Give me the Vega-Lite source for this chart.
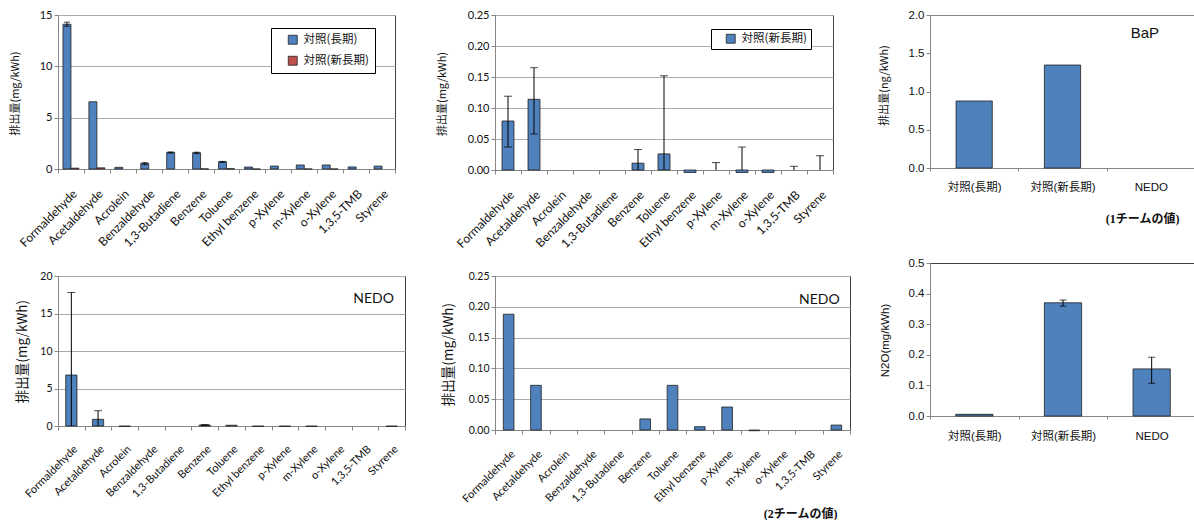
{
  "$schema": "https://vega.github.io/schema/vega-lite/v6.json",
  "padding": 0,
  "background": "white",
  "spacing": 26,
  "config": {
    "view": {"stroke": null},
    "axis": {
      "domainColor": "#868686",
      "tickColor": "#868686",
      "gridColor": "#ABABAB",
      "gridWidth": 1,
      "labelColor": "#111111",
      "titleColor": "#111111",
      "titleFontWeight": "normal",
      "labelFont": "Lato",
      "titleFont": "Noto Sans CJK JP",
      "tickSize": 4
    }
  },
  "datasets": {
    "long_term": [
      {"compound": "Formaldehyde", "series": "対照(長期)", "value": 14.1},
      {"compound": "Formaldehyde", "series": "対照(新長期)", "value": 0.079},
      {"compound": "Acetaldehyde", "series": "対照(長期)", "value": 6.55},
      {"compound": "Acetaldehyde", "series": "対照(新長期)", "value": 0.114},
      {"compound": "Acrolein", "series": "対照(長期)", "value": 0.16},
      {"compound": "Benzaldehyde", "series": "対照(長期)", "value": 0.55},
      {"compound": "1,3-Butadiene", "series": "対照(長期)", "value": 1.62},
      {"compound": "Benzene", "series": "対照(長期)", "value": 1.59},
      {"compound": "Benzene", "series": "対照(新長期)", "value": 0.011},
      {"compound": "Toluene", "series": "対照(長期)", "value": 0.71},
      {"compound": "Toluene", "series": "対照(新長期)", "value": 0.026},
      {"compound": "Ethyl benzene", "series": "対照(長期)", "value": 0.19},
      {"compound": "Ethyl benzene", "series": "対照(新長期)", "value": -0.004},
      {"compound": "p-Xylene", "series": "対照(長期)", "value": 0.29},
      {"compound": "m-Xylene", "series": "対照(長期)", "value": 0.39},
      {"compound": "m-Xylene", "series": "対照(新長期)", "value": -0.004},
      {"compound": "o-Xylene", "series": "対照(長期)", "value": 0.39},
      {"compound": "o-Xylene", "series": "対照(新長期)", "value": -0.004},
      {"compound": "1,3,5-TMB", "series": "対照(長期)", "value": 0.2},
      {"compound": "Styrene", "series": "対照(長期)", "value": 0.28}
    ],
    "long_term_err": [
      {"compound": "Formaldehyde", "series": "対照(長期)", "lo": 13.9, "hi": 14.3},
      {"compound": "Benzaldehyde", "series": "対照(長期)", "lo": 0.42, "hi": 0.62},
      {"compound": "1,3-Butadiene", "series": "対照(長期)", "lo": 1.55, "hi": 1.66},
      {"compound": "Benzene", "series": "対照(長期)", "lo": 1.5, "hi": 1.64},
      {"compound": "Toluene", "series": "対照(長期)", "lo": 0.64, "hi": 0.74}
    ],
    "new_long_term": [
      {"compound": "Formaldehyde", "series": "対照(新長期)", "value": 0.079},
      {"compound": "Acetaldehyde", "series": "対照(新長期)", "value": 0.114},
      {"compound": "Benzene", "series": "対照(新長期)", "value": 0.011},
      {"compound": "Toluene", "series": "対照(新長期)", "value": 0.026},
      {"compound": "Ethyl benzene", "series": "対照(新長期)", "value": -0.004},
      {"compound": "m-Xylene", "series": "対照(新長期)", "value": -0.004},
      {"compound": "o-Xylene", "series": "対照(新長期)", "value": -0.004}
    ],
    "new_long_term_err": [
      {"compound": "Formaldehyde", "lo": 0.037, "hi": 0.119},
      {"compound": "Acetaldehyde", "lo": 0.058, "hi": 0.165},
      {"compound": "Benzene", "lo": -0.011, "hi": 0.033},
      {"compound": "Toluene", "lo": -0.1, "hi": 0.152},
      {"compound": "p-Xylene", "lo": -0.012, "hi": 0.012},
      {"compound": "m-Xylene", "lo": -0.045, "hi": 0.037},
      {"compound": "1,3,5-TMB", "lo": -0.006, "hi": 0.006},
      {"compound": "Styrene", "lo": -0.023, "hi": 0.023}
    ],
    "bap": [
      {"engine": "対照(長期)", "value": 0.876},
      {"engine": "対照(新長期)", "value": 1.346}
    ],
    "nedo_1": [
      {"compound": "Formaldehyde", "value": 6.8},
      {"compound": "Acetaldehyde", "value": 0.89},
      {"compound": "Acrolein", "value": -0.06},
      {"compound": "Benzene", "value": 0.12},
      {"compound": "Toluene", "value": 0.1},
      {"compound": "Ethyl benzene", "value": -0.06},
      {"compound": "p-Xylene", "value": -0.06},
      {"compound": "m-Xylene", "value": -0.06},
      {"compound": "Styrene", "value": -0.06}
    ],
    "nedo_1_err": [
      {"compound": "Formaldehyde", "lo": -4.2, "hi": 17.8},
      {"compound": "Acetaldehyde", "lo": -0.26, "hi": 2.04},
      {"compound": "Benzene", "lo": 0.04, "hi": 0.2}
    ],
    "nedo_2": [
      {"compound": "Formaldehyde", "value": 0.188},
      {"compound": "Acetaldehyde", "value": 0.0725},
      {"compound": "Benzene", "value": 0.018},
      {"compound": "Toluene", "value": 0.0725},
      {"compound": "Ethyl benzene", "value": 0.0054},
      {"compound": "p-Xylene", "value": 0.0373},
      {"compound": "m-Xylene", "value": -0.0012},
      {"compound": "Styrene", "value": 0.008}
    ],
    "n2o": [
      {"engine": "対照(長期)", "value": 0.0055},
      {"engine": "対照(新長期)", "value": 0.37, "lo": 0.359, "hi": 0.379},
      {"engine": "NEDO", "value": 0.154, "lo": 0.107, "hi": 0.192}
    ]
  },
  "hconcat": [
    {
      "columns": 4,
      "spacing": 0,
      "align": "each",
      "bounds": "flush",
      "resolve": {"scale": {"color": "independent"}, "legend": {"color": "independent"}},
      "concat": [
        {"data": {"values": []}, "mark": "point", "width": 1, "height": 1},
        {"data": {"values": []}, "mark": "point", "width": 1, "height": 15},
        {"data": {"values": []}, "mark": "point", "width": 1, "height": 1},
        {"data": {"values": []}, "mark": "point", "width": 1, "height": 15},

        {"data": {"values": []}, "mark": "point", "width": 58, "height": 1},
        {
          "width": 337,
          "height": 154,
          "view": {"stroke": "#404040"},
          "data": {"name": "long_term"},
          "encoding": {
            "x": {
              "field": "compound", "type": "nominal", "sort": null,
              "scale": {"domain": ["Formaldehyde", "Acetaldehyde", "Acrolein", "Benzaldehyde", "1,3-Butadiene", "Benzene", "Toluene", "Ethyl benzene", "p-Xylene", "m-Xylene", "o-Xylene", "1,3,5-TMB", "Styrene"], "paddingInner": 0, "paddingOuter": 0},
              "axis": {"title": null, "labelAngle": -45, "labelFontSize": 12, "tickBand": "extent", "labelPadding": 15, "labelOverlap": false}
            },
            "xOffset": {"field": "series", "type": "nominal", "scale": {"domain": ["対照(長期)", "対照(新長期)"], "paddingInner": 0, "paddingOuter": 0.625}}
          },
          "layer": [
            {
              "mark": {"type": "bar", "stroke": "#1F1F1F", "strokeWidth": 0.8},
              "encoding": {
                "y": {
                  "field": "value", "type": "quantitative", "title": "排出量(mg/kWh)",
                  "scale": {"domain": [0, 15], "nice": false},
                  "axis": {"values": [0, 5, 10, 15], "format": "d", "labelFontSize": 11, "titleFontSize": 11, "titleX": -43, "titleY": 78, "titleAlign": "center", "titleBaseline": "middle", "titleAngle": -90}
                },
                "color": {
                  "field": "series", "type": "nominal",
                  "scale": {"domain": ["対照(長期)", "対照(新長期)"], "range": ["#4F81BD", "#C0504D"]},
                  "legend": {"title": null, "orient": "none", "legendX": 213, "legendY": 13, "direction": "vertical", "strokeColor": "#000000", "fillColor": "#ffffff", "padding": 6, "symbolOffset": 10, "symbolType": "square", "symbolSize": 80, "symbolStrokeColor": "#1F1F1F", "symbolStrokeWidth": 0.8, "labelFont": "Noto Sans CJK JP", "labelFontSize": 11.5, "labelColor": "#111111", "rowPadding": 8, "labelOffset": 5}
                }
              }
            },
            {
              "data": {"name": "long_term_err"},
              "mark": {"type": "rule", "color": "#000000", "strokeWidth": 1, "clip": true},
              "encoding": {
                "y": {"field": "lo", "type": "quantitative", "title": "排出量(mg/kWh)", "axis": {"values": [0, 5, 10, 15], "format": "d", "labelFontSize": 11, "titleFontSize": 11, "titleX": -43, "titleY": 78, "titleAlign": "center", "titleBaseline": "middle", "titleAngle": -90}},
                "y2": {"field": "hi"}
              }
            },
            {
              "data": {"name": "long_term_err"},
              "mark": {"type": "tick", "color": "#000000", "size": 6, "thickness": 1, "clip": true},
              "encoding": {"y": {"field": "hi", "type": "quantitative", "title": "排出量(mg/kWh)", "axis": {"values": [0, 5, 10, 15], "format": "d", "labelFontSize": 11, "titleFontSize": 11, "titleX": -43, "titleY": 78, "titleAlign": "center", "titleBaseline": "middle", "titleAngle": -90}}}
            },
            {
              "data": {"name": "long_term_err"},
              "mark": {"type": "tick", "color": "#000000", "size": 6, "thickness": 1, "clip": true},
              "encoding": {"y": {"field": "lo", "type": "quantitative", "title": "排出量(mg/kWh)", "axis": {"values": [0, 5, 10, 15], "format": "d", "labelFontSize": 11, "titleFontSize": 11, "titleX": -43, "titleY": 78, "titleAlign": "center", "titleBaseline": "middle", "titleAngle": -90}}}
            }
          ]
        },
        {"data": {"values": []}, "mark": "point", "width": 90, "height": 1},
        {
          "width": 338,
          "height": 155,
          "view": {"stroke": "#404040"},
          "data": {"name": "new_long_term"},
          "encoding": {
            "x": {
              "field": "compound", "type": "nominal", "sort": null,
              "scale": {"domain": ["Formaldehyde", "Acetaldehyde", "Acrolein", "Benzaldehyde", "1,3-Butadiene", "Benzene", "Toluene", "Ethyl benzene", "p-Xylene", "m-Xylene", "o-Xylene", "1,3,5-TMB", "Styrene"], "paddingInner": 0, "paddingOuter": 0},
              "axis": {"title": null, "labelAngle": -45, "labelFontSize": 12, "tickBand": "extent", "labelPadding": 15, "labelOverlap": false}
            }
          },
          "layer": [
            {
              "mark": {"type": "bar", "width": {"band": 0.46}, "stroke": "#1F1F1F", "strokeWidth": 0.8},
              "encoding": {
                "y": {
                  "field": "value", "type": "quantitative", "title": "排出量(mg/kWh)",
                  "scale": {"domain": [0, 0.25], "nice": false},
                  "axis": {"values": [0, 0.05, 0.1, 0.15, 0.2, 0.25], "format": ".2f", "labelFontSize": 11, "titleFontSize": 11, "titleX": -53, "titleY": 78.5, "titleAlign": "center", "titleBaseline": "middle", "titleAngle": -90}
                },
                "color": {
                  "field": "series", "type": "nominal",
                  "scale": {"domain": ["対照(新長期)"], "range": ["#4F81BD"]},
                  "legend": {"title": null, "orient": "none", "legendX": 216, "legendY": 14, "direction": "vertical", "strokeColor": "#000000", "fillColor": "#ffffff", "padding": 4, "symbolOffset": 10, "symbolType": "square", "symbolSize": 80, "symbolStrokeColor": "#1F1F1F", "symbolStrokeWidth": 0.8, "labelFont": "Noto Sans CJK JP", "labelFontSize": 11.5, "labelColor": "#111111", "labelOffset": 5}
                }
              }
            },
            {
              "data": {"name": "new_long_term_err"},
              "mark": {"type": "rule", "color": "#000000", "strokeWidth": 1, "clip": true},
              "encoding": {
                "y": {"field": "lo", "type": "quantitative", "title": "排出量(mg/kWh)", "axis": {"values": [0, 0.05, 0.1, 0.15, 0.2, 0.25], "format": ".2f", "labelFontSize": 11, "titleFontSize": 11, "titleX": -53, "titleY": 78.5, "titleAlign": "center", "titleBaseline": "middle", "titleAngle": -90}},
                "y2": {"field": "hi"}
              }
            },
            {
              "data": {"name": "new_long_term_err"},
              "mark": {"type": "tick", "color": "#000000", "size": 8, "thickness": 1, "clip": true},
              "encoding": {"y": {"field": "hi", "type": "quantitative", "title": "排出量(mg/kWh)", "axis": {"values": [0, 0.05, 0.1, 0.15, 0.2, 0.25], "format": ".2f", "labelFontSize": 11, "titleFontSize": 11, "titleX": -53, "titleY": 78.5, "titleAlign": "center", "titleBaseline": "middle", "titleAngle": -90}}}
            },
            {
              "data": {"name": "new_long_term_err"},
              "mark": {"type": "tick", "color": "#000000", "size": 8, "thickness": 1, "clip": true},
              "encoding": {"y": {"field": "lo", "type": "quantitative", "title": "排出量(mg/kWh)", "axis": {"values": [0, 0.05, 0.1, 0.15, 0.2, 0.25], "format": ".2f", "labelFontSize": 11, "titleFontSize": 11, "titleX": -53, "titleY": 78.5, "titleAlign": "center", "titleBaseline": "middle", "titleAngle": -90}}}
            }
          ]
        },

        {"data": {"values": []}, "mark": "point", "width": 1, "height": 1},
        {"data": {"values": []}, "mark": "point", "width": 1, "height": 106},
        {"data": {"values": []}, "mark": "point", "width": 1, "height": 1},
        {"data": {"values": []}, "mark": "point", "width": 1, "height": 106},

        {"data": {"values": []}, "mark": "point", "width": 58, "height": 1},
        {
          "width": 347,
          "height": 150,
          "view": {"stroke": "#404040"},
          "data": {"name": "nedo_1"},
          "encoding": {
            "x": {
              "field": "compound", "type": "nominal", "sort": null,
              "scale": {"domain": ["Formaldehyde", "Acetaldehyde", "Acrolein", "Benzaldehyde", "1,3-Butadiene", "Benzene", "Toluene", "Ethyl benzene", "p-Xylene", "m-Xylene", "o-Xylene", "1,3,5-TMB", "Styrene"], "paddingInner": 0, "paddingOuter": 0},
              "axis": {"title": null, "labelAngle": -45, "labelFontSize": 11, "tickBand": "extent", "labelPadding": 13, "labelOverlap": false}
            }
          },
          "layer": [
            {
              "mark": {"type": "bar", "width": {"band": 0.42}, "color": "#4F81BD", "stroke": "#1F1F1F", "strokeWidth": 0.8},
              "encoding": {
                "y": {
                  "field": "value", "type": "quantitative", "title": "排出量(mg/kWh)",
                  "scale": {"domain": [0, 20], "nice": false},
                  "axis": {"values": [0, 5, 10, 15, 20], "format": "d", "labelFontSize": 10.5, "titleFontSize": 13.5, "titleX": -36, "titleY": 75, "titleAlign": "center", "titleBaseline": "middle", "titleAngle": -90}
                }
              }
            },
            {
              "data": {"name": "nedo_1_err"},
              "mark": {"type": "rule", "color": "#000000", "strokeWidth": 1, "clip": true},
              "encoding": {
                "y": {"field": "lo", "type": "quantitative", "title": "排出量(mg/kWh)", "axis": {"values": [0, 5, 10, 15, 20], "format": "d", "labelFontSize": 10.5, "titleFontSize": 13.5, "titleX": -36, "titleY": 75, "titleAlign": "center", "titleBaseline": "middle", "titleAngle": -90}},
                "y2": {"field": "hi"}
              }
            },
            {
              "data": {"name": "nedo_1_err"},
              "mark": {"type": "tick", "color": "#000000", "size": 8, "thickness": 1, "clip": true},
              "encoding": {"y": {"field": "hi", "type": "quantitative", "title": "排出量(mg/kWh)", "axis": {"values": [0, 5, 10, 15, 20], "format": "d", "labelFontSize": 10.5, "titleFontSize": 13.5, "titleX": -36, "titleY": 75, "titleAlign": "center", "titleBaseline": "middle", "titleAngle": -90}}}
            },
            {
              "data": {"name": "nedo_1_err"},
              "mark": {"type": "tick", "color": "#000000", "size": 8, "thickness": 1, "clip": true},
              "encoding": {"y": {"field": "lo", "type": "quantitative", "title": "排出量(mg/kWh)", "axis": {"values": [0, 5, 10, 15, 20], "format": "d", "labelFontSize": 10.5, "titleFontSize": 13.5, "titleX": -36, "titleY": 75, "titleAlign": "center", "titleBaseline": "middle", "titleAngle": -90}}}
            },
            {
              "data": {"values": [{"compound": "Styrene", "value": 16.9, "note": "NEDO"}]},
              "mark": {"type": "text", "font": "Lato", "fontSize": 14, "dx": -18, "color": "#111111"},
              "encoding": {
                "y": {"field": "value", "type": "quantitative", "title": "排出量(mg/kWh)", "axis": {"values": [0, 5, 10, 15, 20], "format": "d", "labelFontSize": 10.5, "titleFontSize": 13.5, "titleX": -36, "titleY": 75, "titleAlign": "center", "titleBaseline": "middle", "titleAngle": -90}},
                "text": {"field": "note"}
              }
            }
          ]
        },
        {"data": {"values": []}, "mark": "point", "width": 90, "height": 1},
        {
          "width": 355,
          "height": 154,
          "view": {"stroke": "#404040"},
          "data": {"name": "nedo_2"},
          "encoding": {
            "x": {
              "field": "compound", "type": "nominal", "sort": null,
              "scale": {"domain": ["Formaldehyde", "Acetaldehyde", "Acrolein", "Benzaldehyde", "1,3-Butadiene", "Benzene", "Toluene", "Ethyl benzene", "p-Xylene", "m-Xylene", "o-Xylene", "1,3,5-TMB", "Styrene"], "paddingInner": 0, "paddingOuter": 0},
              "axis": {"title": "(2チームの値)", "labelAngle": -45, "labelFontSize": 11, "tickBand": "extent", "labelPadding": 14, "labelOverlap": false, "titleX": 342, "titleY": 83, "titleAlign": "right", "titleBaseline": "middle", "titleFont": "'Liberation Serif', 'Noto Sans CJK JP'", "titleFontSize": 12, "titleFontWeight": "bold"}
            }
          },
          "layer": [
            {
              "mark": {"type": "bar", "width": {"band": 0.39}, "color": "#4F81BD", "stroke": "#1F1F1F", "strokeWidth": 0.8},
              "encoding": {
                "y": {
                  "field": "value", "type": "quantitative", "title": "排出量(mg/kWh)",
                  "scale": {"domain": [0, 0.25], "nice": false},
                  "axis": {"values": [0, 0.05, 0.1, 0.15, 0.2, 0.25], "format": ".2f", "labelFontSize": 10.5, "titleFontSize": 13.5, "titleX": -47, "titleY": 78, "titleAlign": "center", "titleBaseline": "middle", "titleAngle": -90}
                }
              }
            },
            {
              "data": {"values": [{"compound": "Styrene", "value": 0.211, "note": "NEDO"}]},
              "mark": {"type": "text", "font": "Lato", "fontSize": 14, "dx": -17, "color": "#111111"},
              "encoding": {
                "y": {"field": "value", "type": "quantitative", "title": "排出量(mg/kWh)", "axis": {"values": [0, 0.05, 0.1, 0.15, 0.2, 0.25], "format": ".2f", "labelFontSize": 10.5, "titleFontSize": 13.5, "titleX": -47, "titleY": 78, "titleAlign": "center", "titleBaseline": "middle", "titleAngle": -90}},
                "text": {"field": "note"}
              }
            }
          ]
        }
      ]
    },
    {
      "spacing": 0,
      "bounds": "flush",
      "vconcat": [
        {"data": {"values": []}, "mark": "point", "width": 1, "height": 15},
        {
          "width": 265,
          "height": 153,
          "view": {"stroke": "#868686"},
          "data": {"name": "bap"},
          "encoding": {
            "x": {
              "field": "engine", "type": "nominal", "sort": null,
              "scale": {"domain": ["対照(長期)", "対照(新長期)", "NEDO"], "paddingInner": 0, "paddingOuter": 0},
              "axis": {"title": "(1チームの値)", "labelAngle": 0, "labelFont": "'Liberation Sans', 'Noto Sans CJK JP'", "labelFontSize": 11.5, "tickBand": "extent", "tickSize": 3, "labelPadding": 10, "titleX": 249, "titleY": 50, "titleAlign": "right", "titleBaseline": "middle", "titleFont": "'Liberation Serif', 'Noto Sans CJK JP'", "titleFontSize": 12, "titleFontWeight": "bold"}
            }
          },
          "layer": [
            {
              "mark": {"type": "bar", "width": {"band": 0.41}, "color": "#4F81BD", "stroke": "#1F1F1F", "strokeWidth": 0.8},
              "encoding": {
                "y": {
                  "field": "value", "type": "quantitative", "title": "排出量(ng/kWh)",
                  "scale": {"domain": [0, 2], "nice": false},
                  "axis": {"values": [0, 0.5, 1, 1.5, 2], "format": ".1f", "grid": false, "labelFont": "Liberation Sans", "labelFontSize": 11.5, "titleFontSize": 11, "titleX": -46, "titleY": 70, "titleAlign": "center", "titleBaseline": "middle", "titleAngle": -90}
                }
              }
            },
            {
              "data": {"values": [{"engine": "NEDO", "value": 1.76, "note": "BaP"}]},
              "mark": {"type": "text", "font": "Liberation Sans", "fontSize": 15, "dx": -6, "color": "#111111"},
              "encoding": {
                "y": {"field": "value", "type": "quantitative", "title": "排出量(ng/kWh)", "axis": {"values": [0, 0.5, 1, 1.5, 2], "format": ".1f", "grid": false, "labelFont": "Liberation Sans", "labelFontSize": 11.5, "titleFontSize": 11, "titleX": -46, "titleY": 70, "titleAlign": "center", "titleBaseline": "middle", "titleAngle": -90}},
                "text": {"field": "note"}
              }
            }
          ]
        },
        {"data": {"values": []}, "mark": "point", "width": 1, "height": 95},
        {
          "width": 266,
          "height": 153,
          "view": {"stroke": "#404040"},
          "data": {"name": "n2o"},
          "encoding": {
            "x": {
              "field": "engine", "type": "nominal", "sort": null,
              "scale": {"domain": ["対照(長期)", "対照(新長期)", "NEDO"], "paddingInner": 0, "paddingOuter": 0},
              "axis": {"title": null, "labelAngle": 0, "labelFont": "'Liberation Sans', 'Noto Sans CJK JP'", "labelFontSize": 11.5, "tickBand": "extent", "tickSize": 3, "labelPadding": 11}
            }
          },
          "layer": [
            {
              "mark": {"type": "bar", "width": {"band": 0.42}, "color": "#4F81BD", "stroke": "#1F1F1F", "strokeWidth": 0.8},
              "encoding": {
                "y": {
                  "field": "value", "type": "quantitative", "title": "N2O(mg/kWh)",
                  "scale": {"domain": [0, 0.5], "nice": false},
                  "axis": {"values": [0, 0.1, 0.2, 0.3, 0.4, 0.5], "format": ".1f", "grid": false, "labelFont": "Liberation Sans", "labelFontSize": 11.5, "titleFont": "Liberation Sans", "titleFontSize": 11.5, "titleX": -45, "titleY": 77, "titleAlign": "center", "titleBaseline": "middle", "titleAngle": -90}
                }
              }
            },
            {
              "transform": [{"filter": "isValid(datum.hi)"}],
              "mark": {"type": "rule", "color": "#000000", "strokeWidth": 1},
              "encoding": {
                "y": {"field": "lo", "type": "quantitative", "title": "N2O(mg/kWh)", "axis": {"values": [0, 0.1, 0.2, 0.3, 0.4, 0.5], "format": ".1f", "grid": false, "labelFont": "Liberation Sans", "labelFontSize": 11.5, "titleFont": "Liberation Sans", "titleFontSize": 11.5, "titleX": -45, "titleY": 77, "titleAlign": "center", "titleBaseline": "middle", "titleAngle": -90}},
                "y2": {"field": "hi"}
              }
            },
            {
              "transform": [{"filter": "isValid(datum.hi)"}],
              "mark": {"type": "tick", "color": "#000000", "size": 7, "thickness": 1},
              "encoding": {"y": {"field": "hi", "type": "quantitative", "title": "N2O(mg/kWh)", "axis": {"values": [0, 0.1, 0.2, 0.3, 0.4, 0.5], "format": ".1f", "grid": false, "labelFont": "Liberation Sans", "labelFontSize": 11.5, "titleFont": "Liberation Sans", "titleFontSize": 11.5, "titleX": -45, "titleY": 77, "titleAlign": "center", "titleBaseline": "middle", "titleAngle": -90}}}
            },
            {
              "transform": [{"filter": "isValid(datum.hi)"}],
              "mark": {"type": "tick", "color": "#000000", "size": 7, "thickness": 1},
              "encoding": {"y": {"field": "lo", "type": "quantitative", "title": "N2O(mg/kWh)", "axis": {"values": [0, 0.1, 0.2, 0.3, 0.4, 0.5], "format": ".1f", "grid": false, "labelFont": "Liberation Sans", "labelFontSize": 11.5, "titleFont": "Liberation Sans", "titleFontSize": 11.5, "titleX": -45, "titleY": 77, "titleAlign": "center", "titleBaseline": "middle", "titleAngle": -90}}}
            }
          ]
        }
      ]
    }
  ]
}
